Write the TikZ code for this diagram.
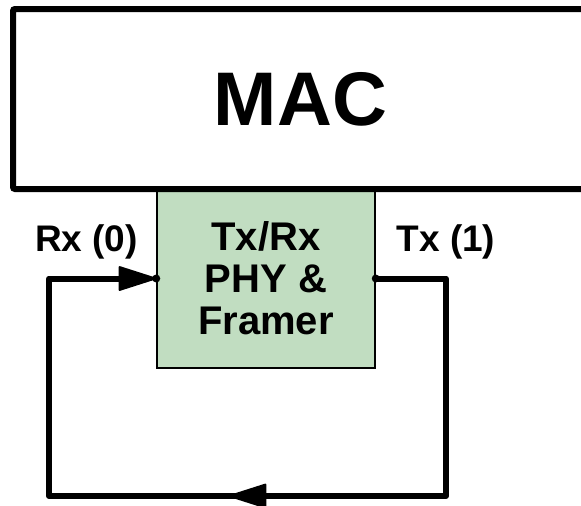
\documentclass[tikz,border=0pt]{standalone}
\usepackage{fontspec}
\setmainfont{Liberation Sans}
\usetikzlibrary{arrows.meta,decorations.markings}
\definecolor{phygreen}{RGB}{193,221,193}
\begin{document}
\begin{tikzpicture}[x=1pt,y=-1pt,
  macbox/.style={draw=black, line width=6pt, rounded corners=2pt, fill=white, inner sep=0pt},
  phybox/.style={draw=black, line width=1.5pt, fill=phygreen, inner sep=0pt, align=center,
                 font=\fontsize{40}{42}\selectfont\bfseries},
  lbl/.style={font=\fontsize{37}{40}\selectfont\bfseries, anchor=base, inner sep=0pt},
  wire/.style={line width=6pt, line join=round},
  bigtip/.tip={Triangle[length=40pt 0 0,width=25pt 0 0,line width=2pt,round]},
  jdot/.style={circle, fill=black, inner sep=0pt, minimum size=8pt},
  midarrow/.style={decoration={markings, mark=at position 505pt with {\arrow{bigtip}}}, postaction=decorate}]
\clip (0,0) rectangle (581,506);
\node[phybox, minimum width=218pt, minimum height=179pt] (phy) at (266,278.5) {Tx/Rx\\PHY \&\\Framer};
\node[macbox, minimum width=575pt, minimum height=180pt,
      font=\fontsize{76}{80}\selectfont\bfseries] (mac) at (300.5,99) {MAC};
\node[lbl] (rxl) at (86.5,251) {Rx (0)};
\node[lbl] (txl) at (446,251) {Tx (1)};
\coordinate (cR) at (446,496);
\coordinate (cL) at (49,496);
\draw[wire, midarrow, -bigtip] (phy.east) -| (cR) -- (cL) |- (phy.west);
\node[jdot] (dR) at (phy.east) {};
\node[jdot] (dL) at (phy.west) {};
\end{tikzpicture}
\end{document}
